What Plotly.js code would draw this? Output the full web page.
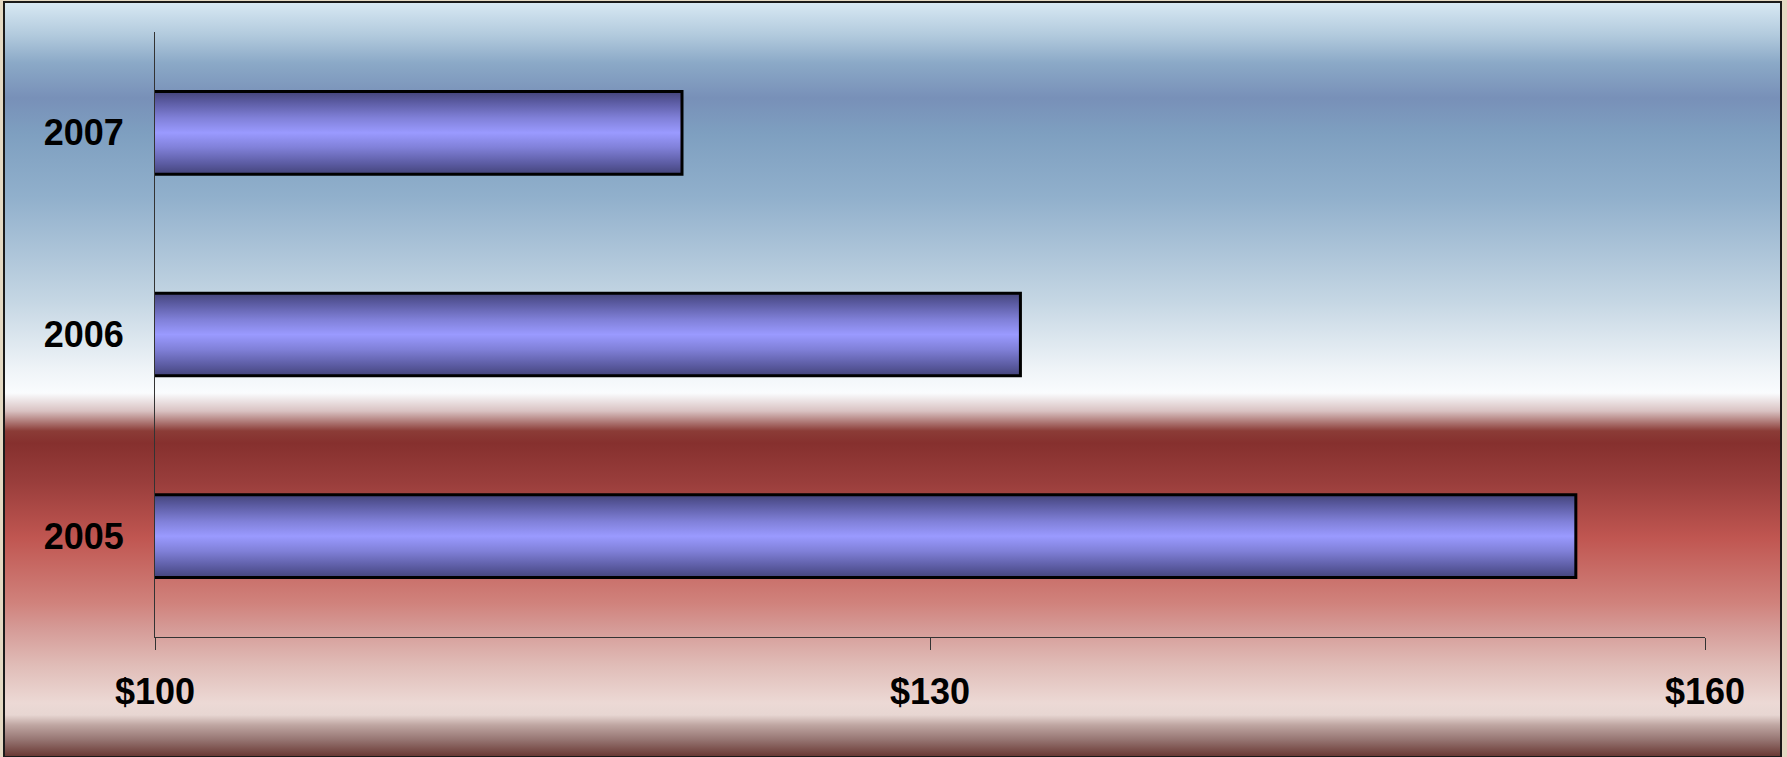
<!DOCTYPE html>
<html>
<head>
<meta charset="utf-8">
<script src="https://cdn.plot.ly/plotly-3.0.1.min.js"></script>
<style>
  html, body { margin: 0; padding: 0; width: 1787px; height: 757px; overflow: hidden;
    background: #e4d9c3; }
  #frame { position: absolute; left: 3px; top: 1px; width: 1775px; height: 753px;
    border: 2px solid #1a1a1a;
    background: linear-gradient(to bottom,
      #d7e8f3 0px, #b2cadd 32px, #8ba9c7 60px, #7890b8 95px, #7e9fc0 130px,
      #91b0cc 195px, #c6d7e4 300px, #eef3f7 365px, #fafcfe 390px,
      #d9c2c2 408px, #8b3c37 428px, #86302e 440px, #9a3e3c 480px,
      #c05651 535px, #d0827c 600px, #d59a96 625px, #e0bcb7 662px,
      #ecd9d5 700px, #e7d6d2 712px, #bfa6a2 722px, #957471 737px, #6a3934 753px);
  }
  #chart { position: absolute; left: 0; top: 0; width: 1787px; height: 757px; }
</style>
</head>
<body>
<div id="frame"></div>
<div id="chart"></div>
<script>
const years = ['2005', '2006', '2007'];
const prices = [155.0, 133.5, 120.4];
const tickValues = [100, 130, 160];
const tickLabels = ['$100', '$130', '$160'];

const labelFont = { family: 'Liberation Sans, Arial, sans-serif', size: 36, color: '#000000', weight: 'bold' };

const trace = {
  type: 'bar',
  orientation: 'h',
  y: years,
  x: prices,
  marker: { color: '#9898ff', line: { color: '#000000', width: 3 } },
  hoverinfo: 'none'
};

const layout = {
  width: 1787,
  height: 757,
  margin: { l: 155, r: 82, t: 32, b: 120 },
  paper_bgcolor: 'rgba(0,0,0,0)',
  plot_bgcolor: 'rgba(0,0,0,0)',
  showlegend: false,
  bargap: 0.59,
  xaxis: {
    range: [100, 160],
    tickvals: tickValues,
    ticktext: tickLabels,
    showgrid: false,
    zeroline: false,
    showline: true,
    linecolor: '#333333',
    linewidth: 1,
    ticks: 'outside',
    ticklen: 12,
    tickcolor: '#333333',
    tickwidth: 1,
    tickfont: labelFont,
    ticklabelstandoff: 11
  },
  yaxis: {
    type: 'category',
    showgrid: false,
    zeroline: false,
    showline: true,
    linecolor: '#333333',
    linewidth: 1,
    ticks: '',
    tickfont: labelFont,
    ticklabelstandoff: 23
  }
};

Plotly.newPlot('chart', [trace], layout, { displayModeBar: false, staticPlot: true }).then(function (gd) {
  const svg = gd.querySelector('svg.main-svg');
  const ns = 'http://www.w3.org/2000/svg';
  let defs = svg.querySelector('defs');
  if (!defs) { defs = document.createElementNS(ns, 'defs'); svg.insertBefore(defs, svg.firstChild); }
  const grad = document.createElementNS(ns, 'linearGradient');
  grad.setAttribute('id', 'barGrad');
  grad.setAttribute('x1', '0'); grad.setAttribute('y1', '0');
  grad.setAttribute('x2', '0'); grad.setAttribute('y2', '1');
  [['0', '#44447a'], ['0.12', '#5a5aa0'], ['0.32', '#8080d8'], ['0.5', '#9a9aff'],
   ['0.68', '#8080d8'], ['0.88', '#5a5aa0'], ['1', '#44447a']].forEach(function (s) {
    const st = document.createElementNS(ns, 'stop');
    st.setAttribute('offset', s[0]);
    st.setAttribute('stop-color', s[1]);
    grad.appendChild(st);
  });
  defs.appendChild(grad);
  gd.querySelectorAll('.trace.bars .point path').forEach(function (p) {
    p.style.fill = 'url(#barGrad)';
  });
});
</script>
</body>
</html>
